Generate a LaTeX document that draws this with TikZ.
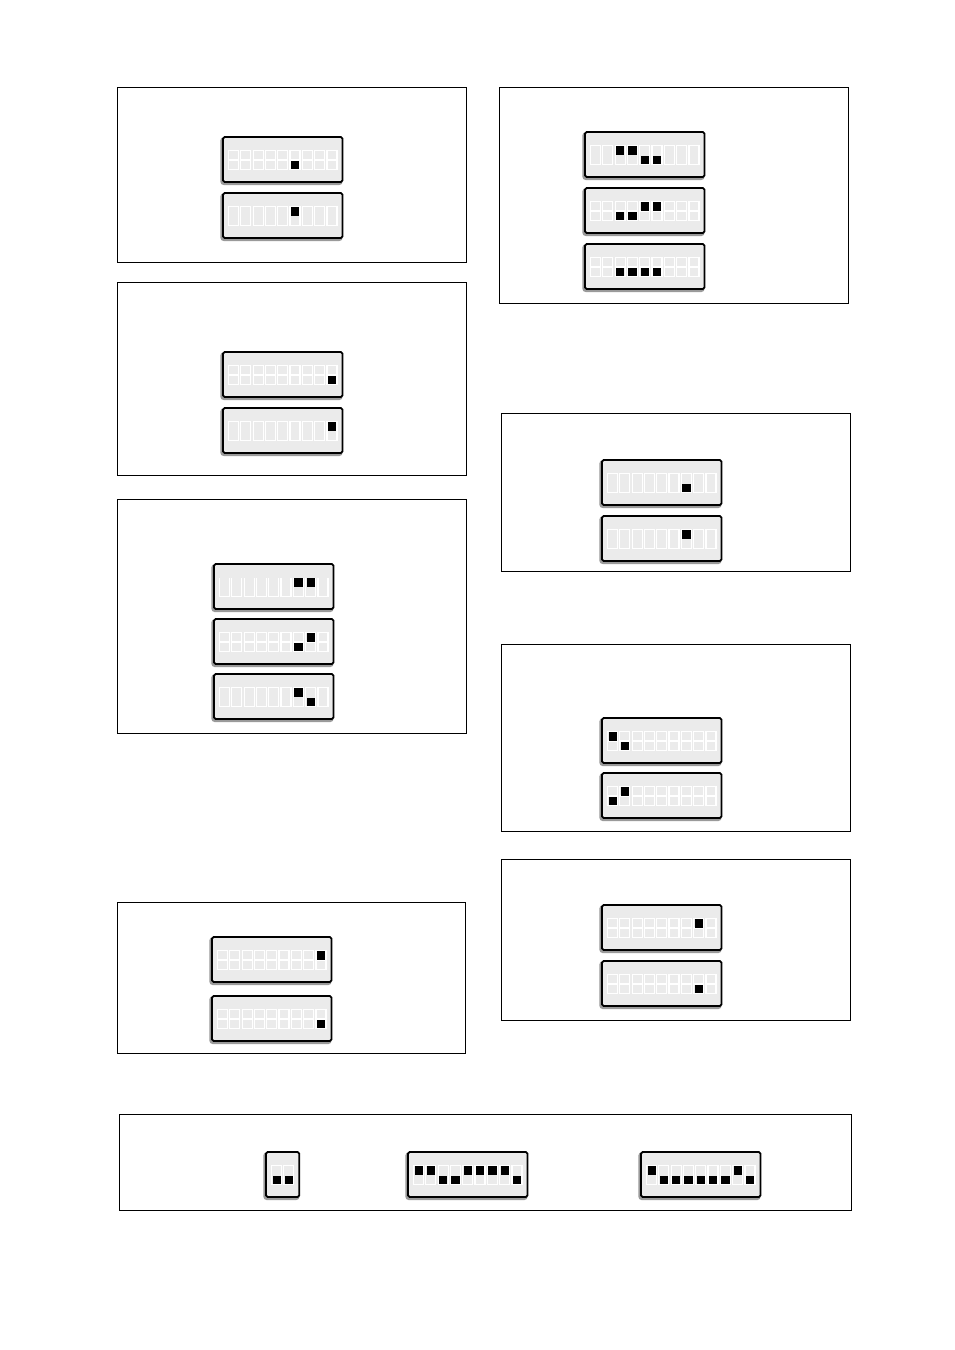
\documentclass[tikz,border=0pt]{standalone}
\definecolor{swfill}{HTML}{EBEBEB}
\definecolor{swshadow}{HTML}{9A9A9A}
\tikzset{
  panel/.style={draw=black, line width=0.5pt},
  swbox/.style={fill=swfill, draw=black, line width=0.9pt, rounded corners=0.8pt},
  swshade/.style={draw=swshadow, line width=1.4pt, rounded corners=1pt},
  cellline/.style={draw=white, line width=0.6pt},
  knob/.style={fill=black}
}
% #1 x, #2 y, #3 number of cells, #4 cell style (E = eight, O = zero, U = open top), #5 states
\newcommand\dipsw[5]{%
  \pgfmathsetmacro\swwidth{11+(#3-1)*12.3+10}
  \draw[swshade] (#1-1.2,#2+1.6) rectangle ++(\swwidth,45);
  \draw[swbox] (#1,#2) rectangle ++(\swwidth,45);
  \foreach \s [count=\i] in {#5}{
    \pgfmathsetmacro\cx{#1+5.5+(\i-1)*12.3}
    \pgfmathsetmacro\cy{#2+13.5}
    \if#4E
      \draw[cellline] (\cx,\cy) rectangle ++(10,19);
      \draw[cellline] (\cx,\cy+9.5) -- ++(10,0);
    \fi
    \if#4O
      \draw[cellline] (\cx,\cy) rectangle ++(10,19);
    \fi
    \if#4U
      \draw[cellline] (\cx,\cy) -- (\cx,\cy+19) -- (\cx+10,\cy+19) -- (\cx+10,\cy);
    \fi
    \if\s U\fill[knob] (\cx+1,\cy+0.7) rectangle ++(8.3,8.3);\fi
    \if\s D\fill[knob] (\cx+1,\cy+10) rectangle ++(8.3,8.3);\fi
  }%
}
\begin{document}
\begin{tikzpicture}[x=0.5pt,y=-0.5pt]
\useasboundingbox (0,0) rectangle (954,1350);
% panels
\draw[panel] (117,87) rectangle (466,262);
\draw[panel] (117,282) rectangle (466,475);
\draw[panel] (117,499) rectangle (466,733);
\draw[panel] (117,902) rectangle (465,1053);
\draw[panel] (499,87) rectangle (848,303);
\draw[panel] (501,413) rectangle (850,571);
\draw[panel] (501,644) rectangle (850,831);
\draw[panel] (501,859) rectangle (850,1020);
\draw[panel] (119,1114) rectangle (851,1210);
% left column
\dipsw{223}{137}{9}{E}{N,N,N,N,N,D,N,N,N}
\dipsw{223}{193}{9}{O}{N,N,N,N,N,U,N,N,N}
\dipsw{223}{352}{9}{E}{N,N,N,N,N,N,N,N,D}
\dipsw{223}{408}{9}{O}{N,N,N,N,N,N,N,N,U}
\dipsw{214}{564}{9}{U}{N,N,N,N,N,N,U,U,N}
\dipsw{214}{619}{9}{E}{N,N,N,N,N,N,D,U,N}
\dipsw{214}{674}{9}{O}{N,N,N,N,N,N,U,D,N}
\dipsw{212}{937}{9}{E}{N,N,N,N,N,N,N,N,U}
\dipsw{212}{996}{9}{E}{N,N,N,N,N,N,N,N,D}
% right column
\dipsw{585}{132}{9}{O}{N,N,U,U,D,D,N,N,N}
\dipsw{585}{188}{9}{E}{N,N,D,D,U,U,N,N,N}
\dipsw{585}{244}{9}{E}{N,N,D,D,D,D,N,N,N}
\dipsw{602}{460}{9}{O}{N,N,N,N,N,N,D,N,N}
\dipsw{602}{516}{9}{O}{N,N,N,N,N,N,U,N,N}
\dipsw{602}{718}{9}{E}{U,D,N,N,N,N,N,N,N}
\dipsw{602}{773}{9}{E}{D,U,N,N,N,N,N,N,N}
\dipsw{602}{905}{9}{E}{N,N,N,N,N,N,N,U,N}
\dipsw{602}{961}{9}{E}{N,N,N,N,N,N,N,D,N}
% bottom panel
\dipsw{266}{1152}{2}{O}{D,D}
\dipsw{408}{1152}{9}{O}{U,U,D,D,U,U,U,U,D}
\dipsw{641}{1152}{9}{O}{U,D,D,D,D,D,D,U,D}
\end{tikzpicture}
\end{document}
